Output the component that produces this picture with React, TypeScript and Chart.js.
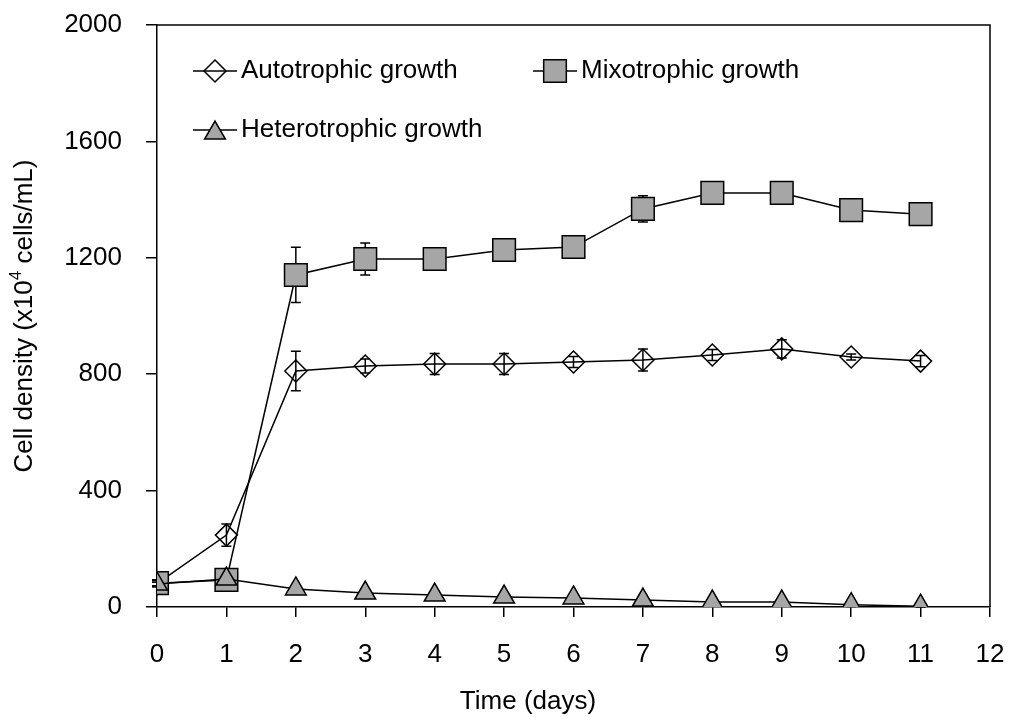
import React, { useEffect, useRef } from "react";
import { Chart, registerables } from "chart.js";

Chart.register(...registerables);

// Culture time in days
const days = [0, 1, 2, 3, 4, 5, 6, 7, 8, 9, 10, 11];

// Cell density (x10^4 cells/mL) and standard deviations
const autotrophic = [80, 247, 811, 828, 835, 835, 842, 849, 866, 887, 859, 845];
const autotrophicErr = [10, 38, 68, 24, 36, 36, 19, 38, 19, 31, 10, 19];

const mixotrophic = [82, 93, 1141, 1196, 1196, 1227, 1237, 1368, 1423, 1423, 1364, 1350];
const mixotrophicErr = [12, 12, 95, 55, 15, 15, 15, 45, 15, 15, 15, 15];

const heterotrophic = [79, 96, 62, 48, 41, 34, 31, 24, 17, 17, 8, 3];
const heterotrophicErr = [6, 8, 12, 10, 10, 9, 8, 7, 6, 6, 6, 5];

const seriesNames = ["Autotrophic growth", "Mixotrophic growth", "Heterotrophic growth"];

const yTicks = [0, 400, 800, 1200, 1600, 2000];
const xTicks = [0, 1, 2, 3, 4, 5, 6, 7, 8, 9, 10, 11, 12];

const xTitle = "Time (days)";

const FONT = "'Liberation Sans', Arial, Helvetica, sans-serif";
const GREY = "#a6a6a6";
const INK = "#000000";

type Shape = "rectRot" | "rect" | "triangle";

function markerPath(ctx: CanvasRenderingContext2D, shape: Shape, x: number, y: number, r: number) {
  ctx.beginPath();
  if (shape === "rectRot") {
    ctx.moveTo(x, y - r);
    ctx.lineTo(x + r, y);
    ctx.lineTo(x, y + r);
    ctx.lineTo(x - r, y);
    ctx.closePath();
  } else if (shape === "rect") {
    const s = Math.SQRT1_2 * r;
    ctx.rect(x - s, y - s, 2 * s, 2 * s);
  } else {
    const a = (2 * Math.PI) / 3;
    ctx.moveTo(x, y - r);
    ctx.lineTo(x + Math.sin(a) * r, y - Math.cos(a) * r);
    ctx.lineTo(x + Math.sin(2 * a) * r, y - Math.cos(2 * a) * r);
    ctx.closePath();
  }
}

const errorBarsPlugin = {
  id: "errorBars",
  beforeDatasetsDraw(chart: any) {
    const { ctx, scales } = chart;
    const yScale = scales.y;
    ctx.save();
    ctx.strokeStyle = INK;
    ctx.lineWidth = 1.5;
    chart.data.datasets.forEach((ds: any, i: number) => {
      const meta = chart.getDatasetMeta(i);
      const errs: number[] = ds.errors || [];
      meta.data.forEach((pt: any, j: number) => {
        const e = errs[j];
        if (!e) return;
        const v = ds.data[j].y;
        const yTop = yScale.getPixelForValue(v + e);
        const yBot = yScale.getPixelForValue(Math.max(0, v - e));
        const cap = 5;
        ctx.beginPath();
        ctx.moveTo(pt.x, yTop);
        ctx.lineTo(pt.x, yBot);
        ctx.moveTo(pt.x - cap, yTop);
        ctx.lineTo(pt.x + cap, yTop);
        ctx.moveTo(pt.x - cap, yBot);
        ctx.lineTo(pt.x + cap, yBot);
        ctx.stroke();
      });
    });
    ctx.restore();
  },
};

const frameAndLegendPlugin = {
  id: "frameAndLegend",
  afterDraw(chart: any) {
    const { ctx, chartArea } = chart;
    const { left, right, top, bottom } = chartArea;
    ctx.save();

    // top and right edges of the plot frame
    ctx.strokeStyle = INK;
    ctx.lineWidth = 1.5;
    ctx.beginPath();
    ctx.moveTo(left, top);
    ctx.lineTo(right, top);
    ctx.lineTo(right, bottom);
    ctx.stroke();

    // legend inside the plot area
    const entries = [
      { label: seriesNames[0], shape: "rectRot" as Shape, r: 11, fill: "rgba(0,0,0,0)", dx: 36, dy: 46 },
      { label: seriesNames[1], shape: "rect" as Shape, r: 16, fill: GREY, dx: 376, dy: 46 },
      { label: seriesNames[2], shape: "triangle" as Shape, r: 12, fill: GREY, dx: 36, dy: 105 },
    ];
    ctx.font = `26px ${FONT}`;
    ctx.textBaseline = "middle";
    ctx.textAlign = "left";
    entries.forEach((en) => {
      const x0 = left + en.dx;
      const y0 = top + en.dy;
      ctx.strokeStyle = INK;
      ctx.lineWidth = 1.5;
      ctx.beginPath();
      ctx.moveTo(x0, y0);
      ctx.lineTo(x0 + 44, y0);
      ctx.stroke();
      markerPath(ctx, en.shape, x0 + 22, y0 + (en.shape === "triangle" ? 3 : 0), en.r);
      ctx.fillStyle = en.fill;
      ctx.fill();
      ctx.stroke();
      ctx.fillStyle = INK;
      ctx.fillText(en.label, x0 + 48, y0);
    });

    // x axis title
    ctx.font = `26px ${FONT}`;
    ctx.textAlign = "center";
    ctx.textBaseline = "middle";
    ctx.fillStyle = INK;
    ctx.fillText(xTitle, left + 371, bottom + 95);

    // y axis title with superscript exponent
    ctx.textAlign = "left";
    const main = "Cell density (x10";
    const sup = "4";
    const rest = " cells/mL)";
    ctx.font = `26px ${FONT}`;
    const w1 = ctx.measureText(main).width;
    const w3 = ctx.measureText(rest).width;
    ctx.font = `17px ${FONT}`;
    const w2 = ctx.measureText(sup).width;
    const total = w1 + w2 + w3;
    ctx.translate(left - 132, (top + bottom) / 2);
    ctx.rotate(-Math.PI / 2);
    let x = -total / 2;
    ctx.font = `26px ${FONT}`;
    ctx.fillText(main, x, 0);
    x += w1;
    ctx.font = `17px ${FONT}`;
    ctx.fillText(sup, x, -9);
    x += w2;
    ctx.font = `26px ${FONT}`;
    ctx.fillText(rest, x, 0);

    ctx.restore();
  },
};

function toPoints(values: number[]) {
  return values.map((v, i) => ({ x: days[i], y: v }));
}

export default function App() {
  const canvasRef = useRef<HTMLCanvasElement | null>(null);

  useEffect(() => {
    const canvas = canvasRef.current;
    if (!canvas) return;

    const tickFont = { family: FONT, size: 26 };

    const chart = new Chart(canvas, {
      type: "line",
      data: {
        datasets: [
          {
            label: seriesNames[0],
            data: toPoints(autotrophic),
            errors: autotrophicErr,
            borderColor: INK,
            borderWidth: 1.5,
            pointStyle: "rectRot",
            pointRadius: 11,
            pointBackgroundColor: "rgba(0,0,0,0)",
            pointBorderColor: INK,
            pointBorderWidth: 1.5,
            order: 3,
          },
          {
            label: seriesNames[1],
            data: toPoints(mixotrophic),
            errors: mixotrophicErr,
            borderColor: INK,
            borderWidth: 1.5,
            pointStyle: "rect",
            pointRadius: 16,
            pointBackgroundColor: GREY,
            pointBorderColor: INK,
            pointBorderWidth: 1.5,
            order: 2,
          },
          {
            label: seriesNames[2],
            data: toPoints(heterotrophic),
            errors: heterotrophicErr,
            borderColor: INK,
            borderWidth: 1.5,
            pointStyle: "triangle",
            pointRadius: 12,
            pointBackgroundColor: GREY,
            pointBorderColor: INK,
            pointBorderWidth: 1.5,
            order: 1,
          },
        ] as any,
      },
      options: {
        animation: false,
        responsive: false,
        maintainAspectRatio: false,
        layout: { padding: { left: 0, top: 25, right: 21, bottom: 0 } },
        plugins: {
          legend: { display: false },
          tooltip: { enabled: false },
        },
        elements: { line: { tension: 0 } },
        scales: {
          x: {
            type: "linear",
            min: xTicks[0],
            max: xTicks[xTicks.length - 1],
            afterBuildTicks: (scale: any) => {
              scale.ticks = xTicks.map((v) => ({ value: v }));
            },
            afterFit: (scale: any) => {
              scale.height = 110;
              scale.paddingLeft = 0;
              scale.paddingRight = 0;
            },
            ticks: {
              font: tickFont,
              color: INK,
              padding: 22,
              maxRotation: 0,
              autoSkip: false,
              callback: (v: any) => String(v),
            },
            grid: { drawOnChartArea: false, drawTicks: true, tickLength: 10, color: INK, lineWidth: 1.5 },
            border: { color: INK, width: 1.5 },
          },
          y: {
            type: "linear",
            min: yTicks[0],
            max: yTicks[yTicks.length - 1],
            afterBuildTicks: (scale: any) => {
              scale.ticks = yTicks.map((v) => ({ value: v }));
            },
            afterFit: (scale: any) => {
              scale.width = 157;
              scale.paddingTop = 0;
              scale.paddingBottom = 0;
            },
            ticks: { font: tickFont, color: INK, padding: 24, callback: (v: any) => String(v) },
            grid: { drawOnChartArea: false, drawTicks: true, tickLength: 11, color: INK, lineWidth: 1.5 },
            border: { color: INK, width: 1.5 },
          },
        },
      } as any,
      plugins: [errorBarsPlugin, frameAndLegendPlugin],
    });

    return () => chart.destroy();
  }, []);

  return (
    <div style={{ position: "fixed", left: 0, top: 0, width: 1011, height: 717, background: "#fff" }}>
      <canvas ref={canvasRef} width={1011} height={717} style={{ display: "block" }} />
    </div>
  );
}
